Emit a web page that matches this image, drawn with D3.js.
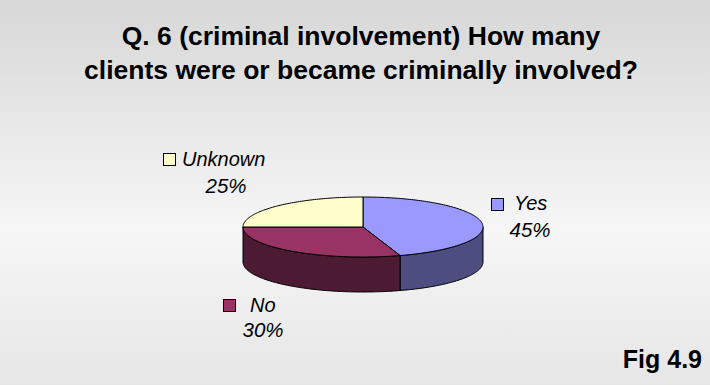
<!DOCTYPE html>
<html>
<head>
<meta charset="utf-8">
<script src="https://cdn.jsdelivr.net/npm/d3@7"></script>
<style>
  html, body { margin: 0; padding: 0; background: #fff; }
  svg { display: block; }
</style>
</head>
<body>
<svg id="chart" width="710" height="385"></svg>
<script>
const categories = ["Yes", "No", "Unknown"];
const values = [45, 30, 25];
const labels = ["45%", "30%", "25%"];
const titleLines = ["Q. 6 (criminal involvement) How many", "clients were or became criminally involved?"];
const figLabel = "Fig 4.9";

const topColors = ["#9999ff", "#993366", "#ffffcc"];
const sideColors = ["#4d4d80", "#4d1a33", "#808066"];

const W = 710, H = 385;
const svg = d3.select("#chart");
const defs = svg.append("defs");
const grad = defs.append("linearGradient").attr("id", "bg").attr("x1", 0).attr("y1", 0).attr("x2", 0).attr("y2", 1);
grad.append("stop").attr("offset", "0").attr("stop-color", "#d7d7d7");
grad.append("stop").attr("offset", "0.6").attr("stop-color", "#f6f6f6");
grad.append("stop").attr("offset", "1").attr("stop-color", "#e6e6e6");
svg.append("rect").attr("width", W).attr("height", H).attr("fill", "url(#bg)");

const font = "'Liberation Sans', Arial, sans-serif";

svg.append("g").selectAll("text").data(titleLines).join("text")
  .attr("x", 361).attr("y", (d, i) => 45 + i * 34)
  .attr("text-anchor", "middle")
  .attr("font-family", font).attr("font-weight", "bold").attr("font-size", 26.5)
  .attr("fill", "#000").text(d => d);

svg.append("text").attr("x", 702).attr("y", 368).attr("text-anchor", "end")
  .attr("font-family", font).attr("font-weight", "bold").attr("font-size", 25)
  .attr("fill", "#000").text(figLabel);

// 3D pie
const cx = 363, cy = 227, rx = 120, ry = 30, depth = 35;
const pie = d3.pie().sort(null).startAngle(0).endAngle(2 * Math.PI)(values);
const px = a => cx + rx * Math.sin(a);
const py = a => cy - ry * Math.cos(a);

function arcPoints(a0, a1) {
  const n = Math.max(2, Math.ceil((a1 - a0) / 0.02));
  return d3.range(n + 1).map(i => {
    const a = a0 + (a1 - a0) * i / n;
    return [px(a), py(a)];
  });
}
const line = d3.line();

const g = svg.append("g");
// sides (front half only: angles between PI/2 and 3PI/2)
pie.forEach((s, i) => {
  const a0 = Math.max(s.startAngle, Math.PI / 2);
  const a1 = Math.min(s.endAngle, 3 * Math.PI / 2);
  if (a1 <= a0) return;
  const topPts = arcPoints(a0, a1);
  const botPts = topPts.slice().reverse().map(p => [p[0], p[1] + depth]);
  g.append("path").attr("d", line(topPts.concat(botPts)) + "Z")
    .attr("fill", sideColors[i]).attr("stroke", "#000").attr("stroke-width", 1)
    .attr("stroke-linejoin", "round");
});
// tops
pie.forEach((s, i) => {
  const pts = [[cx, cy]].concat(arcPoints(s.startAngle, s.endAngle));
  g.append("path").attr("d", line(pts) + "Z")
    .attr("fill", topColors[i]).attr("stroke", "#000").attr("stroke-width", 1)
    .attr("stroke-linejoin", "round");
});

// labels
const labelPos = [
  { sq: [491, 198], name: [514, 210], pct: [530, 237] },
  { sq: [223, 299], name: [250, 312], pct: [263, 337] },
  { sq: [163, 153], name: [182, 166], pct: [226, 193] }
];
const lg = svg.append("g");
categories.forEach((c, i) => {
  const p = labelPos[i];
  lg.append("rect").attr("x", p.sq[0] + 0.5).attr("y", p.sq[1] + 0.5).attr("width", 12).attr("height", 12)
    .attr("fill", topColors[i]).attr("stroke", "#000").attr("stroke-width", 1);
  lg.append("text").attr("x", p.name[0]).attr("y", p.name[1])
    .attr("font-family", font).attr("font-style", "italic").attr("font-size", 20)
    .attr("fill", "#000").text(c);
  lg.append("text").attr("x", p.pct[0]).attr("y", p.pct[1]).attr("text-anchor", "middle")
    .attr("font-family", font).attr("font-style", "italic").attr("font-size", 20.5)
    .attr("fill", "#000").text(labels[i]);
});
</script>
</body>
</html>
